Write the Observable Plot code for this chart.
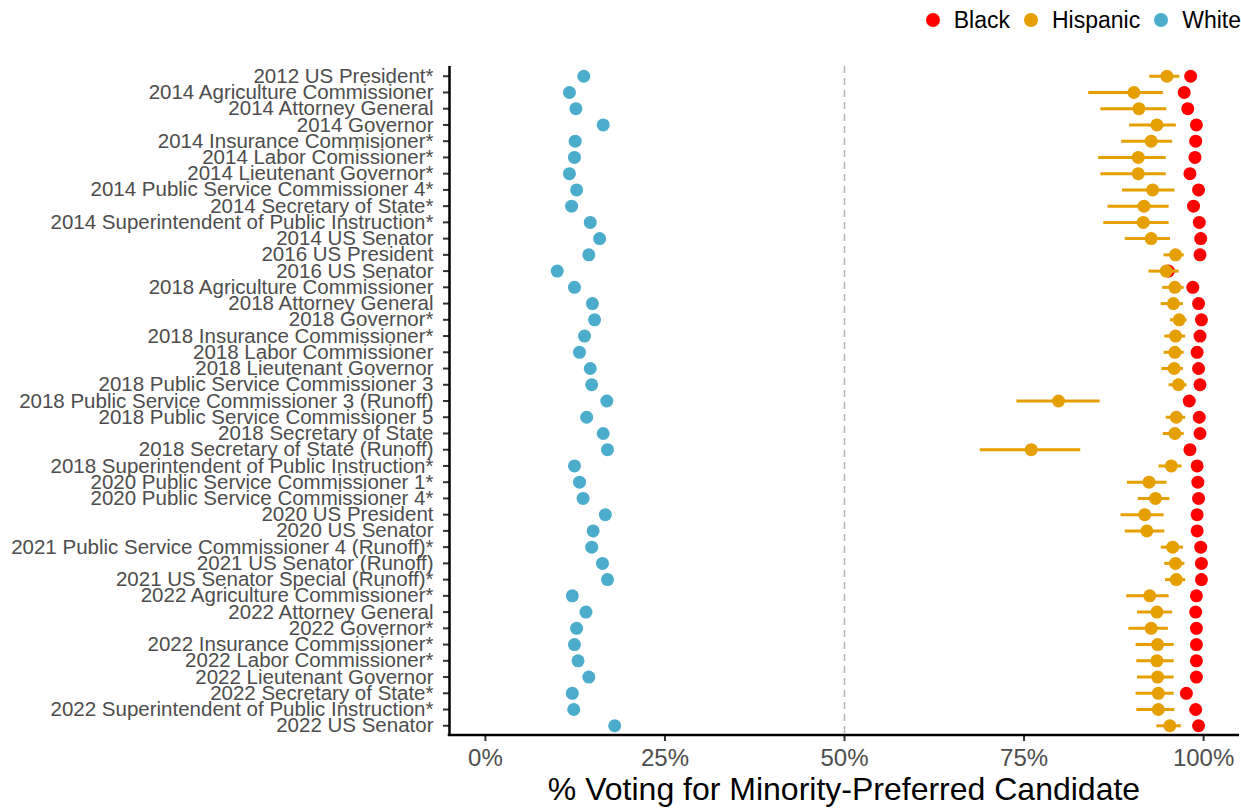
<!DOCTYPE html>
<html>
<head>
<meta charset="utf-8">
<script src="https://cdn.jsdelivr.net/npm/d3@7"></script>
<script src="https://cdn.jsdelivr.net/npm/@observablehq/plot@0.6"></script>
<style>
  html, body { margin: 0; padding: 0; background: #fff; }
  body { width: 1241px; height: 809px; position: relative; overflow: hidden; font-family: "Liberation Sans", Arial, sans-serif; }
  #legend { height: 40px; display: flex; justify-content: flex-end; align-items: center; font-size: 23px; color: #000; padding-right: 0px; }
  .item { display: flex; align-items: center; margin-left: 14px; }
  .sw { width: 14px; height: 14px; border-radius: 50%; margin-right: 14px; }
  #xlabel { position: absolute; top: 771px; left: 449px; width: 790px; text-align: center; font-size: 32px; line-height: 36px; color: #000; }
</style>
</head>
<body>
<div id="legend"></div>
<div id="chart"></div>
<div id="xlabel">% Voting for Minority-Preferred Candidate</div>
<script>
const contests = [
  "2012 US President*",
  "2014 Agriculture Commissioner",
  "2014 Attorney General",
  "2014 Governor",
  "2014 Insurance Commisioner*",
  "2014 Labor Comissioner*",
  "2014 Lieutenant Governor*",
  "2014 Public Service Commissioner 4*",
  "2014 Secretary of State*",
  "2014 Superintendent of Public Instruction*",
  "2014 US Senator",
  "2016 US President",
  "2016 US Senator",
  "2018 Agriculture Commissioner",
  "2018 Attorney General",
  "2018 Governor*",
  "2018 Insurance Commissioner*",
  "2018 Labor Commissioner",
  "2018 Lieutenant Governor",
  "2018 Public Service Commissioner 3",
  "2018 Public Service Commissioner 3 (Runoff)",
  "2018 Public Service Commissioner 5",
  "2018 Secretary of State",
  "2018 Secretary of State (Runoff)",
  "2018 Superintendent of Public Instruction*",
  "2020 Public Service Commissioner 1*",
  "2020 Public Service Commissioner 4*",
  "2020 US President",
  "2020 US Senator",
  "2021 Public Service Commissioner 4 (Runoff)*",
  "2021 US Senator (Runoff)",
  "2021 US Senator Special (Runoff)*",
  "2022 Agriculture Commissioner*",
  "2022 Attorney General",
  "2022 Governor*",
  "2022 Insurance Commissioner*",
  "2022 Labor Commissioner*",
  "2022 Lieutenant Governor",
  "2022 Secretary of State*",
  "2022 Superintendent of Public Instruction*",
  "2022 US Senator"
];

// percent values
const whiteVals = [13.7, 11.7, 12.6, 16.4, 12.5, 12.4, 11.7, 12.7, 12.0, 14.6, 15.9, 14.4, 10.0, 12.4, 14.9, 15.2, 13.8, 13.1, 14.6, 14.8, 16.9, 14.1, 16.4, 17.0, 12.4, 13.1, 13.6, 16.7, 15.0, 14.8, 16.3, 17.0, 12.1, 14.0, 12.7, 12.4, 12.9, 14.4, 12.1, 12.3, 18.0];
const blackVals = [98.2, 97.3, 97.8, 99.0, 98.9, 98.8, 98.1, 99.3, 98.6, 99.4, 99.6, 99.5, 95.1, 98.5, 99.3, 99.7, 99.5, 99.1, 99.3, 99.5, 98.0, 99.4, 99.5, 98.1, 99.1, 99.2, 99.3, 99.1, 99.1, 99.6, 99.7, 99.7, 99.0, 98.9, 99.0, 99.0, 99.0, 99.0, 97.6, 98.9, 99.3];
const hispVals = [94.9, 90.3, 91.0, 93.5, 92.7, 90.9, 90.9, 92.9, 91.7, 91.6, 92.7, 96.1, 94.8, 96.0, 95.8, 96.6, 96.1, 96.0, 95.9, 96.5, 79.8, 96.2, 96.0, 76.0, 95.5, 92.4, 93.3, 91.8, 92.1, 95.7, 96.1, 96.2, 92.5, 93.5, 92.7, 93.6, 93.5, 93.6, 93.7, 93.7, 95.3];
const hispLo = [92.5, 84.0, 85.7, 89.7, 88.6, 85.4, 85.7, 88.7, 86.7, 86.1, 89.1, 94.5, 92.4, 94.3, 94.1, 95.4, 94.6, 94.5, 94.2, 95.2, 74.0, 94.8, 94.4, 68.9, 93.8, 89.4, 90.9, 88.5, 89.1, 94.1, 94.6, 94.7, 89.3, 90.8, 89.6, 90.6, 90.7, 90.8, 90.6, 90.7, 93.5];
const hispHi = [96.7, 94.4, 94.9, 96.2, 95.7, 94.8, 94.8, 96.0, 95.2, 95.2, 95.4, 97.3, 96.6, 97.3, 97.2, 97.7, 97.5, 97.3, 97.2, 97.7, 85.6, 97.5, 97.3, 82.9, 97.0, 94.9, 95.3, 94.5, 94.6, 97.2, 97.4, 97.5, 95.2, 95.7, 95.1, 95.9, 95.9, 95.9, 95.9, 96.0, 96.9];

const groups = ["Black", "Hispanic", "White"];
const groupColors = ["#FF0000", "#E69F00", "#4BACCC"];
const xTicks = [0, 0.25, 0.5, 0.75, 1];

const white = contests.map((c, i) => ({contest: c, v: whiteVals[i] / 100}));
const black = contests.map((c, i) => ({contest: c, v: blackVals[i] / 100}));
const hisp = contests.map((c, i) => ({contest: c, v: hispVals[i] / 100, lo: hispLo[i] / 100, hi: hispHi[i] / 100}));

// legend
const legend = document.getElementById("legend");
groups.forEach((g, i) => {
  const it = document.createElement("div");
  it.className = "item";
  const sw = document.createElement("span");
  sw.className = "sw";
  sw.style.background = groupColors[i];
  const t = document.createElement("span");
  t.textContent = g;
  it.appendChild(sw); it.appendChild(t);
  legend.appendChild(it);
});

const bottomLine = (index, scales, values, dimensions) => {
  const {width, height, marginLeft, marginRight, marginBottom} = dimensions;
  const ns = "http://www.w3.org/2000/svg";
  const l = document.createElementNS(ns, "line");
  const y = height - marginBottom;
  l.setAttribute("x1", marginLeft - 1.25);
  l.setAttribute("x2", width - marginRight);
  l.setAttribute("y1", y);
  l.setAttribute("y2", y);
  l.setAttribute("stroke", "#000");
  l.setAttribute("stroke-width", 2.5);
  return l;
};

const cBlack = groupColors[0], cHisp = groupColors[1], cWhite = groupColors[2];

const chart = Plot.plot({
  width: 1241,
  height: 735,
  marginTop: 26,
  marginBottom: 40,
  marginLeft: 449,
  marginRight: 2,
  style: {fontFamily: '"Liberation Sans", Arial, sans-serif', background: "#fff"},
  x: {domain: [-0.05, 1.05]},
  y: {domain: contests, padding: 0.6, round: false},
  marks: [
    Plot.ruleX([0.5], {stroke: "#b5b5b5", strokeWidth: 1.5, strokeDasharray: "7,5"}),
    Plot.dot(white, {x: "v", y: "contest", fill: cWhite, r: 6.5}),
    Plot.dot(black, {x: "v", y: "contest", fill: cBlack, r: 6.5}),
    Plot.ruleY(hisp, {y: "contest", x1: "lo", x2: "hi", stroke: cHisp, strokeWidth: 3}),
    Plot.dot(hisp, {x: "v", y: "contest", fill: cHisp, r: 6.5}),
    Plot.axisY({tickSize: 6, tickPadding: 10, fontSize: 20.5, fill: "#4d4d4d", stroke: "#333", strokeWidth: 2, label: null}),
    Plot.axisX({ticks: xTicks, tickFormat: d3.format(".0%"), tickSize: 6, tickPadding: 7, fontSize: 24, fill: "#4d4d4d", stroke: "#333", strokeWidth: 2, label: null}),
    Plot.ruleX([-0.05], {stroke: "#000", strokeWidth: 2.5}),
    bottomLine
  ]
});
document.getElementById("chart").appendChild(chart);
</script>
</body>
</html>
